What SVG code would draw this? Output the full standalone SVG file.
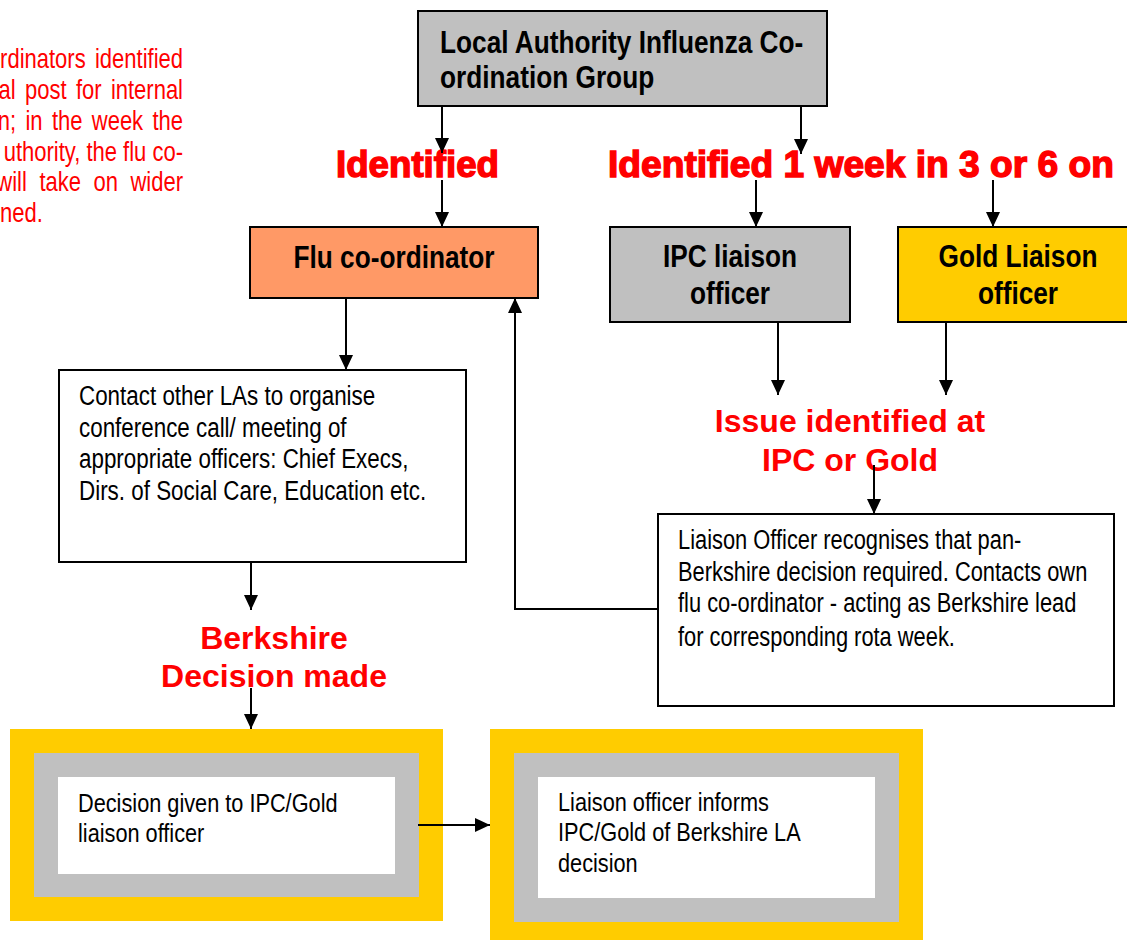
<svg xmlns="http://www.w3.org/2000/svg" width="1127" height="940" viewBox="0 0 1127 940">
<defs>
<marker id="ah" viewBox="0 0 15 14" refX="15" refY="7" markerWidth="15" markerHeight="14" markerUnits="userSpaceOnUse" orient="auto">
<path d="M0,0 L15,7 L0,14 z" fill="#000"/>
</marker>
</defs>
<style>
text{font-family:"Liberation Sans",Arial,sans-serif}
.hb{font-size:32px;font-weight:bold;fill:#000}
.body{font-size:28px;fill:#000}
.body27{font-size:27px;fill:#000}
.body26{font-size:26.5px;fill:#000}
.red{font-size:32px;font-weight:bold;fill:#FF0000}
.redh{font-size:36px;font-weight:bold;fill:#FF0000;stroke:#FF0000;stroke-width:1.4}
.note{font-size:27.5px;fill:#FF0000}
.box{stroke:#000;stroke-width:2}
.conn{fill:none;stroke:#000;stroke-width:2;marker-end:url(#ah)}
</style>
<rect width="1127" height="940" fill="#fff"/>

<g id="note">
<text class="note" text-anchor="end" transform="translate(183 68) scale(0.8 1)" style="word-spacing:4px">rdinators identified</text>
<text class="note" text-anchor="end" transform="translate(183 99) scale(0.8 1)" style="word-spacing:4px">al post for internal</text>
<text class="note" text-anchor="end" transform="translate(183 130) scale(0.8 1)" style="word-spacing:4px">n; in the week the</text>
<text class="note" text-anchor="end" transform="translate(183 161) scale(0.8 1)">uthority, the flu co-</text>
<text class="note" text-anchor="end" transform="translate(183 191) scale(0.8 1)" style="word-spacing:8px">will take on wider</text>
<text class="note" transform="translate(0 222) scale(0.8 1)">ned.</text>
</g>

<g id="la-group">
<rect class="box" x="418" y="11" width="409" height="95" fill="#C0C0C0"/>
<text class="hb" transform="translate(440 53) scale(0.82 1)">Local Authority Influenza Co-</text>
<text class="hb" transform="translate(440 88) scale(0.82 1)">ordination Group</text>
</g>

<g id="label-identified">
<text class="redh" x="417.5" y="177" text-anchor="middle" textLength="163" lengthAdjust="spacingAndGlyphs">Identified</text>
</g>
<g id="label-identified-week">
<text class="redh" x="608" y="177" textLength="506" lengthAdjust="spacingAndGlyphs">Identified 1 week in 3 or 6 on</text>
</g>

<g id="flu-coordinator">
<rect class="box" x="250" y="227" width="288" height="71" fill="#FF9966"/>
<text class="hb" text-anchor="middle" transform="translate(394 268) scale(0.82 1)">Flu co-ordinator</text>
</g>

<g id="ipc-liaison">
<rect class="box" x="610" y="227" width="240" height="95" fill="#C0C0C0"/>
<text class="hb" text-anchor="middle" transform="translate(730 267) scale(0.82 1)">IPC liaison</text>
<text class="hb" text-anchor="middle" transform="translate(730 304) scale(0.82 1)">officer</text>
</g>

<g id="gold-liaison">
<rect class="box" x="898" y="227" width="240" height="95" fill="#FFCC00"/>
<text class="hb" text-anchor="middle" transform="translate(1018 267) scale(0.82 1)">Gold Liaison</text>
<text class="hb" text-anchor="middle" transform="translate(1018 304) scale(0.82 1)">officer</text>
</g>

<g id="contact-las">
<rect class="box" x="59" y="370" width="407" height="192" fill="#fff"/>
<text class="body" transform="translate(79 405) scale(0.8 1)">Contact other LAs to organise</text>
<text class="body" transform="translate(79 437) scale(0.8 1)">conference call/ meeting of</text>
<text class="body" transform="translate(79 468) scale(0.8 1)">appropriate officers: Chief Execs,</text>
<text class="body" transform="translate(79 500) scale(0.8 1)">Dirs. of Social Care, Education etc.</text>
</g>

<g id="label-issue">
<text class="red" x="850" y="432" text-anchor="middle">Issue identified at</text>
<text class="red" x="850" y="471" text-anchor="middle">IPC or Gold</text>
</g>

<g id="liaison-recognises">
<rect class="box" x="658" y="514" width="456" height="192" fill="#fff"/>
<text class="body27" transform="translate(678 549) scale(0.81 1)">Liaison Officer recognises that pan-</text>
<text class="body27" transform="translate(678 581) scale(0.81 1)">Berkshire decision required. Contacts own</text>
<text class="body27" transform="translate(678 612) scale(0.81 1)">flu co-ordinator - acting as Berkshire lead</text>
<text class="body27" transform="translate(678 646) scale(0.81 1)">for corresponding rota week.</text>
</g>

<g id="label-berkshire">
<text class="red" x="274" y="649" text-anchor="middle">Berkshire</text>
<text class="red" x="274" y="687" text-anchor="middle">Decision made</text>
</g>

<g id="decision-given">
<rect x="10" y="729" width="433" height="192" fill="#FFCC00"/>
<rect x="34" y="753" width="385" height="144" fill="#C0C0C0"/>
<rect x="58" y="777" width="337" height="97" fill="#fff"/>
<text class="body26" transform="translate(78 812) scale(0.82 1)">Decision given to IPC/Gold</text>
<text class="body26" transform="translate(78 842) scale(0.82 1)">liaison officer</text>
</g>

<g id="liaison-informs">
<rect x="490" y="729" width="433" height="215" fill="#FFCC00"/>
<rect x="514" y="753" width="385" height="169" fill="#C0C0C0"/>
<rect x="538" y="777" width="337" height="121" fill="#fff"/>
<text class="body26" transform="translate(558 811) scale(0.82 1)">Liaison officer informs</text>
<text class="body26" transform="translate(558 841) scale(0.82 1)">IPC/Gold of Berkshire LA</text>
<text class="body26" transform="translate(558 872) scale(0.82 1)">decision</text>
</g>

<g id="connectors">
<line class="conn" x1="442" y1="106" x2="442" y2="153"/>
<line class="conn" x1="442" y1="180" x2="442" y2="227"/>
<line class="conn" x1="801" y1="106" x2="801" y2="154"/>
<line class="conn" x1="756" y1="180" x2="756" y2="227"/>
<line class="conn" x1="993" y1="180" x2="993" y2="227"/>
<line class="conn" x1="346" y1="298" x2="346" y2="370"/>
<line class="conn" x1="778" y1="322" x2="778" y2="395"/>
<line class="conn" x1="946" y1="322" x2="946" y2="395"/>
<line class="conn" x1="874" y1="465" x2="874" y2="514"/>
<line class="conn" x1="251" y1="562" x2="251" y2="610"/>
<line class="conn" x1="251" y1="688" x2="251" y2="729"/>
<line class="conn" x1="418" y1="825" x2="490" y2="825"/>
<polyline class="conn" points="658,609 515,609 515,298"/>
</g>
</svg>
